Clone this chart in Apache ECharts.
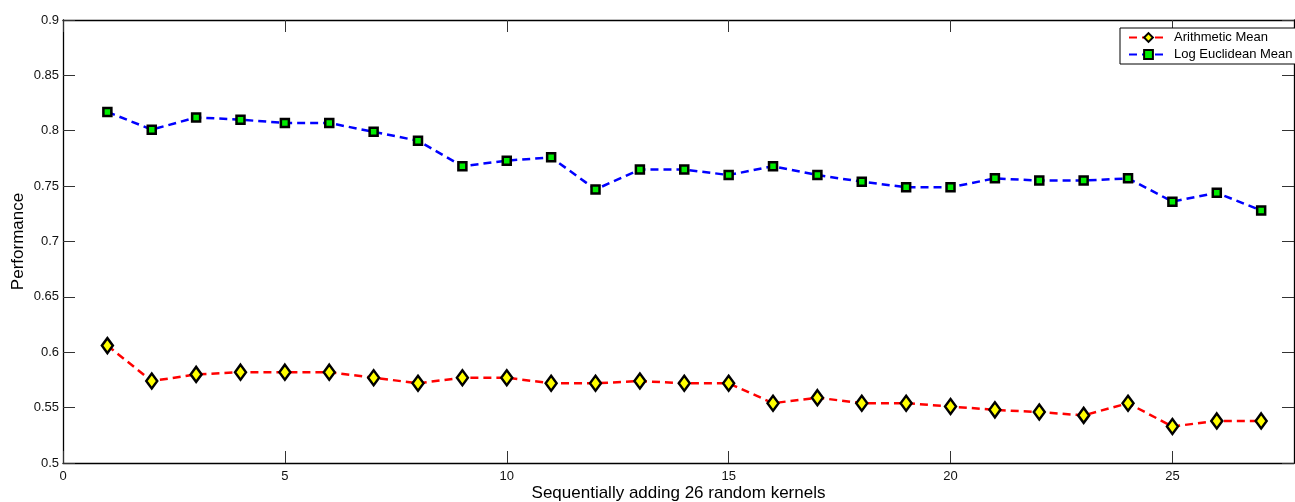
<!DOCTYPE html>
<html>
<head>
<meta charset="utf-8">
<script src="https://cdn.jsdelivr.net/npm/echarts@6/dist/echarts.min.js"></script>
<style>
  html, body { margin: 0; padding: 0; background: #fff; }
  #chart { width: 1295px; height: 502px; }
</style>
</head>
<body>
<div id="chart"></div>
<script>
// number of kernels added
var kernels = [1, 2, 3, 4, 5, 6, 7, 8, 9, 10, 11, 12, 13, 14, 15, 16, 17, 18, 19, 20, 21, 22, 23, 24, 25, 26, 27];

var arithmeticMean = [0.606, 0.574, 0.580, 0.582, 0.582, 0.582, 0.577, 0.572, 0.577, 0.577,
  0.572, 0.572, 0.574, 0.572, 0.572, 0.554, 0.559, 0.554, 0.554, 0.551,
  0.548, 0.546, 0.543, 0.554, 0.533, 0.538, 0.538];

var logEuclideanMean = [0.817, 0.801, 0.812, 0.810, 0.807, 0.807, 0.799, 0.791, 0.768, 0.773,
  0.776, 0.747, 0.765, 0.765, 0.760, 0.768, 0.760, 0.754, 0.749, 0.749,
  0.757, 0.755, 0.755, 0.757, 0.736, 0.744, 0.728];

var xTicks = [0, 5, 10, 15, 20, 25];

function pairs(ys) {
  return kernels.map(function (k, i) { return [k, ys[i]]; });
}

var font = 'Liberation Sans, Arial, Helvetica, sans-serif';

var myChart = echarts.init(document.getElementById('chart'));

var baseX = {
  type: 'value',
  min: 0,
  max: 27.74,
  interval: 5,
  splitLine: { show: false },
  axisLine: { onZero: false, lineStyle: { color: '#000', width: 1.3 } },
  axisTick: { inside: true, length: 12, customValues: xTicks, lineStyle: { color: '#333', width: 1 } },
  axisLabel: { customValues: xTicks, color: '#111', fontFamily: font, fontSize: 13, margin: 7 }
};

var baseY = {
  type: 'value',
  min: 0.5,
  max: 0.9,
  interval: 0.05,
  splitLine: { show: false },
  axisLine: { onZero: false, lineStyle: { color: '#000', width: 1.3 } },
  axisTick: { inside: true, length: 12, lineStyle: { color: '#333', width: 1 } },
  axisLabel: { color: '#111', fontFamily: font, fontSize: 13, margin: 4 }
};

var option = {
  animation: false,
  backgroundColor: '#fff',
  grid: { left: 63, right: 1, top: 20, bottom: 39, outerBoundsMode: 'none', containLabel: false },
  legend: {
    orient: 'vertical',
    left: 1120,
    top: 28,
    padding: [3, 8, 3, 8],
    itemGap: 4,
    itemWidth: 39,
    itemHeight: 11,
    backgroundColor: '#fff',
    borderColor: '#000',
    borderWidth: 1,
    borderRadius: 0,
    textStyle: { color: '#000', fontFamily: font, fontSize: 13, padding: [0, 0, 0, 1] },
    data: ['Arithmetic Mean', 'Log Euclidean Mean']
  },
  xAxis: [
    Object.assign({}, baseX, {
      position: 'bottom',
      name: 'Sequentially adding 26 random kernels',
      nameLocation: 'middle',
      nameGap: 22,
      nameMoveOverlap: false,
      nameTextStyle: { color: '#000', fontFamily: font, fontSize: 17 }
    }),
    Object.assign({}, baseX, {
      position: 'top',
      axisLabel: { show: false }
    })
  ],
  yAxis: [
    Object.assign({}, baseY, {
      position: 'left',
      name: 'Performance',
      nameLocation: 'middle',
      nameGap: 36,
      nameMoveOverlap: false,
      nameTextStyle: { color: '#000', fontFamily: font, fontSize: 17 }
    }),
    Object.assign({}, baseY, {
      position: 'right',
      axisLabel: { show: false }
    })
  ],
  series: [
    {
      name: 'Arithmetic Mean',
      type: 'line',
      xAxisIndex: 0,
      yAxisIndex: 0,
      data: pairs(arithmeticMean),
      symbol: 'diamond',
      symbolSize: [11, 15],
      showAllSymbol: true,
      lineStyle: { color: '#ff0000', width: 2.5, type: [8, 5] },
      itemStyle: { color: '#ffff00', borderColor: '#000', borderWidth: 2.5 }
    },
    {
      name: 'Log Euclidean Mean',
      type: 'line',
      xAxisIndex: 0,
      yAxisIndex: 0,
      data: pairs(logEuclideanMean),
      symbol: 'rect',
      symbolSize: 8,
      showAllSymbol: true,
      lineStyle: { color: '#0000ff', width: 2.5, type: [8, 5] },
      itemStyle: { color: '#00ee00', borderColor: '#000', borderWidth: 2.5 }
    }
  ]
};

myChart.setOption(option);
</script>
</body>
</html>
